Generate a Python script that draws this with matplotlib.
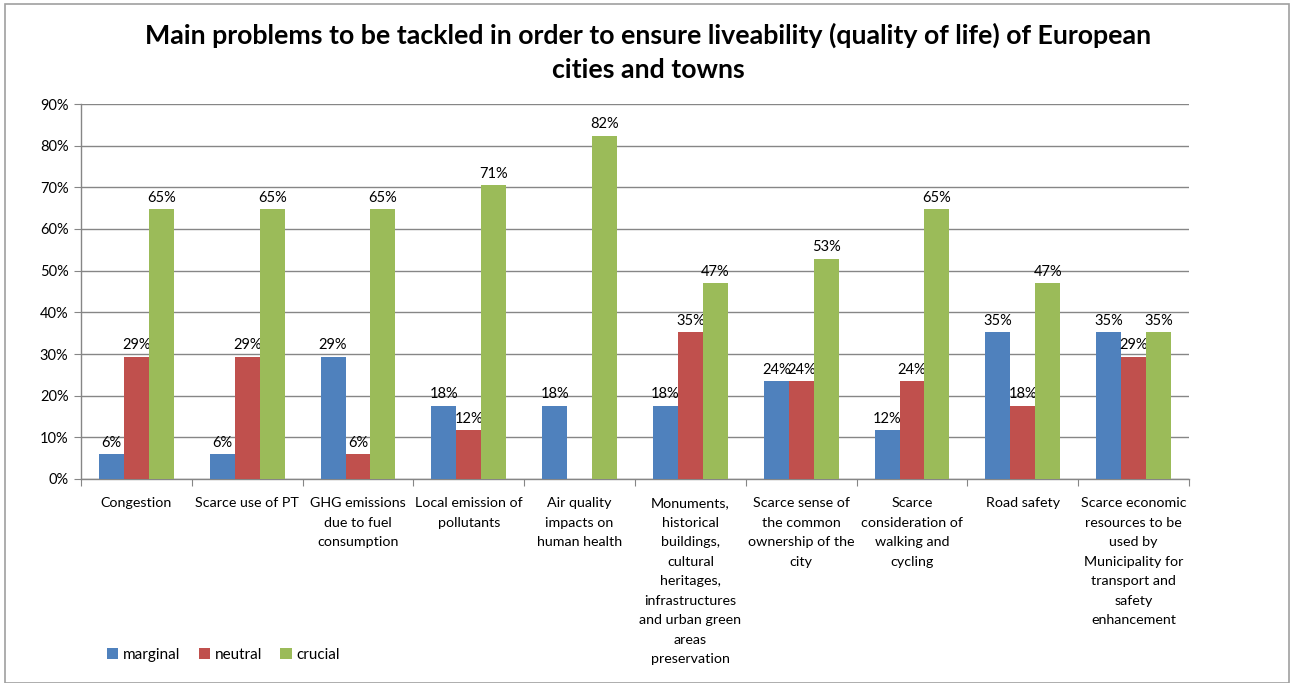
import numpy as np
from matplotlib import pyplot as plt
from matplotlib.patches import Rectangle

plt.rcParams['font.family'] = ['Lato', 'DejaVu Sans']

categories = ['Congestion', 'Scarce use of PT', 'GHG emissions\ndue to fuel\nconsumption',
              'Local emission of\npollutants', 'Air quality\nimpacts on\nhuman health',
              'Monuments,\nhistorical\nbuildings,\ncultural\nheritages,\ninfrastructures\nand urban green\nareas\npreservation',
              'Scarce sense of\nthe common\nownership of the\ncity',
              'Scarce\nconsideration of\nwalking and\ncycling',
              'Road safety',
              'Scarce economic\nresources to be\nused by\nMunicipality for\ntransport and\nsafety\nenhancement']
marginal = [5.9, 5.9, 29.4, 17.6, 17.6, 17.6, 23.5, 11.8, 35.3, 35.3]
neutral = [29.4, 29.4, 5.9, 11.8, 0, 35.3, 23.5, 23.5, 17.6, 29.4]
crucial = [64.7, 64.7, 64.7, 70.6, 82.4, 47.1, 52.9, 64.7, 47.1, 35.3]
series = [('marginal', marginal, '#4F81BD'),
          ('neutral', neutral, '#C0504D'),
          ('crucial', crucial, '#9BBB59')]

W, H = 1291, 683
fig = plt.figure(figsize=(W/100, H/100), dpi=100)
fig.patches.append(Rectangle((5/W, 0), (W-7)/W, (H-4)/H, transform=fig.transFigure,
                             fill=False, edgecolor='#A0A0A0', linewidth=1.2))

ax = fig.add_axes([81/W, (H-479)/H, (1189-81)/W, (479-104)/H])
x = np.arange(len(categories))
bw = 0.225
for i, (name, vals, col) in enumerate(series):
    bars = ax.bar(x + (i-1)*bw, vals, bw, color=col, label=name, zorder=3)
    for b, v in zip(bars, vals):
        if v > 0:
            ax.annotate(f'{v:.0f}%', (b.get_x() + b.get_width()/2, v), xytext=(0, 3),
                        textcoords='offset points', ha='center', va='bottom', fontsize=10.5)

ax.set_xlim(-0.5, len(categories) - 0.5)
ax.set_ylim(0, 90)
ax.set_yticks(range(0, 91, 10))
ax.set_yticklabels([f'{t}%' for t in range(0, 91, 10)], fontsize=10.5)

# category labels drawn as text so the line spacing can be set
ax.set_xticks(np.arange(-0.5, len(categories)))
ax.set_xticklabels([])
for xi, lab in zip(x, categories):
    ax.annotate(lab, (xi, 0), xycoords=('data', 'axes fraction'), xytext=(0, -13),
                textcoords='offset points', ha='center', va='top', fontsize=10.3,
                linespacing=1.75)
ax.tick_params(axis='x', length=5, color='#868686', direction='out')
ax.tick_params(axis='y', length=5, color='#868686', pad=4)
ax.grid(axis='y', color='#868686', linewidth=1, zorder=0)
for s in ['top', 'right']:
    ax.spines[s].set_visible(False)
for s in ['left', 'bottom']:
    ax.spines[s].set_color('#868686')
    ax.spines[s].set_linewidth(1)

fig.text(648/W, 1 - 52/H, 'Main problems to be tackled in order to ensure liveability (quality of life) of European\ncities and towns',
         ha='center', va='center', fontsize=19.3, fontweight='bold', linespacing=1.5)

fig.legend(loc='center left', bbox_to_anchor=(93/W, 1 - 655/H), ncol=3, frameon=False,
           fontsize=11, handlelength=0.75, handleheight=0.75, handletextpad=0.3, columnspacing=1.2)

fig.savefig('out.png', dpi=100)
